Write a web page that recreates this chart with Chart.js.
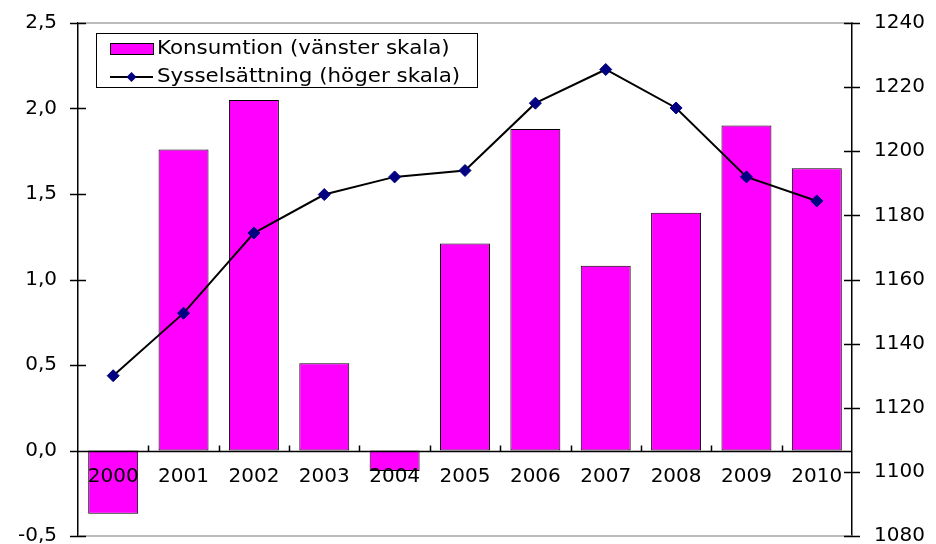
<!DOCTYPE html>
<html>
<head>
<meta charset="utf-8">
<script src="https://cdn.jsdelivr.net/npm/chart.js@4/dist/chart.umd.min.js"></script>
<style>
  html, body { margin: 0; background: #fff; }
  #wrap { width: 936px; height: 544px; }
</style>
</head>
<body>
<div id="wrap"><canvas id="chart"></canvas></div>
<script>
// Data
const years = ['2000', '2001', '2002', '2003', '2004', '2005', '2006', '2007', '2008', '2009', '2010'];
const konsumtion = [-0.37, 1.76, 2.05, 0.51, -0.12, 1.21, 1.88, 1.08, 1.39, 1.90, 1.65];
const sysselsattning = [1130, 1149.5, 1174.5, 1186.5, 1192, 1194, 1215, 1225.5, 1213.5, 1192, 1184.5];

// Axis ranges
const leftMin = -0.5, leftMax = 2.5, leftStep = 0.5;
const rightMin = 1080, rightMax = 1240, rightStep = 20;

const labelFont = { family: 'DejaVu Sans', size: 20 };

// Crossing tick marks, upward category ticks, zero line and the grey frame lines
const axisMarks = {
    id: 'axisMarks',
    afterDraw(chart) {
        const { ctx, chartArea: a, scales: { x, y, y1 } } = chart;
        ctx.save();
        ctx.lineWidth = 1.5;
        ctx.strokeStyle = '#a6a6a6';
        ctx.beginPath();
        ctx.moveTo(a.left, a.top); ctx.lineTo(a.right, a.top);
        ctx.moveTo(a.left, a.bottom); ctx.lineTo(a.right, a.bottom);
        ctx.stroke();

        ctx.strokeStyle = '#000';
        ctx.beginPath();
        y.ticks.forEach(t => {
            const py = Math.round(y.getPixelForValue(t.value)) + 0.5;
            ctx.moveTo(a.left - 8, py); ctx.lineTo(a.left + 8, py);
        });
        y1.ticks.forEach(t => {
            const py = Math.round(y1.getPixelForValue(t.value)) + 0.5;
            ctx.moveTo(a.right - 8, py); ctx.lineTo(a.right + 8, py);
        });
        // zero line, drawn over the bars like the original
        const zero = Math.round(y.getPixelForValue(0)) + 0.5;
        ctx.moveTo(a.left - 8, zero); ctx.lineTo(a.right, zero);
        for (let i = 1; i < years.length; i++) {
            const px = Math.round((x.getPixelForValue(i - 1) + x.getPixelForValue(i)) / 2) + 0.5;
            ctx.moveTo(px, zero - 6); ctx.lineTo(px, zero);
        }
        ctx.stroke();
        ctx.restore();
    }
};

// Legend box inside the plot, top left
const boxLegend = {
    id: 'boxLegend',
    afterDraw(chart) {
        const ctx = chart.ctx;
        const bar = chart.data.datasets[1];
        const line = chart.data.datasets[0];
        ctx.save();
        ctx.fillStyle = '#fff';
        ctx.fillRect(96, 33, 381, 54);
        ctx.strokeStyle = '#000';
        ctx.lineWidth = 1;
        ctx.strokeRect(96.5, 33.5, 381, 54);

        // bar entry
        ctx.fillStyle = bar.backgroundColor;
        ctx.fillRect(110, 43, 43, 11);
        ctx.strokeRect(110.5, 43.5, 43, 11);

        // line entry
        ctx.strokeStyle = line.borderColor;
        ctx.lineWidth = 2;
        ctx.beginPath();
        ctx.moveTo(110, 77); ctx.lineTo(153, 77);
        ctx.stroke();
        ctx.fillStyle = line.pointBackgroundColor;
        ctx.beginPath();
        ctx.moveTo(131.5, 72); ctx.lineTo(136.5, 77); ctx.lineTo(131.5, 82); ctx.lineTo(126.5, 77);
        ctx.closePath();
        ctx.fill();

        // text is a bit wider in the original, stretch it slightly
        ctx.fillStyle = '#000';
        ctx.font = '20px "DejaVu Sans"';
        ctx.textBaseline = 'middle';
        ctx.translate(157, 0);
        ctx.scale(1.07, 1);
        ctx.fillText(bar.label, 0, 49);
        ctx.fillText(line.label, 0, 77);
        ctx.restore();
    }
};

new Chart(document.getElementById('chart').getContext('2d'), {
    data: {
        labels: years,
        datasets: [{
            type: 'line',
            label: 'Sysselsättning (höger skala)',
            data: sysselsattning,
            yAxisID: 'y1',
            borderColor: '#000000',
            borderWidth: 2,
            tension: 0,
            pointStyle: 'rectRot',
            pointRadius: 6,
            pointBackgroundColor: '#000080',
            pointBorderColor: '#000080',
            pointBorderWidth: 1,
            order: 0
        }, {
            type: 'bar',
            label: 'Konsumtion (vänster skala)',
            data: konsumtion,
            yAxisID: 'y',
            backgroundColor: '#ff00ff',
            borderColor: '#000000',
            borderWidth: 1,
            borderSkipped: false,
            barPercentage: 0.71,
            categoryPercentage: 1,
            order: 1
        }]
    },
    options: {
        responsive: true,
        maintainAspectRatio: false,
        animation: false,
        layout: { padding: { top: 23, bottom: 8, left: 0, right: 0 } },
        plugins: {
            legend: { display: false },
            tooltip: { enabled: false }
        },
        scales: {
            x: {
                type: 'category',
                position: { y: 0 },
                offset: true,
                grid: { display: false, drawTicks: false },
                border: { display: false },
                ticks: { color: '#000', font: labelFont, padding: 14, maxRotation: 0, autoSkip: false, z: 1 }
            },
            y: {
                position: 'left',
                min: leftMin,
                max: leftMax,
                grid: { display: false, drawTicks: false },
                border: { color: '#000', width: 1.5 },
                ticks: {
                    stepSize: leftStep,
                    color: '#000',
                    font: labelFont,
                    padding: 21,
                    callback: v => v.toFixed(1).replace('.', ',')
                },
                afterFit(s) { s.width = 78; s.paddingTop = 0; s.paddingBottom = 0; }
            },
            y1: {
                position: 'right',
                min: rightMin,
                max: rightMax,
                grid: { display: false, drawTicks: false },
                border: { color: '#000', width: 1.5 },
                ticks: {
                    stepSize: rightStep,
                    color: '#000',
                    font: labelFont,
                    padding: 22,
                    callback: v => String(v)
                },
                afterFit(s) { s.width = 84; s.paddingTop = 0; s.paddingBottom = 0; }
            }
        }
    },
    plugins: [axisMarks, boxLegend]
});
</script>
</body>
</html>
